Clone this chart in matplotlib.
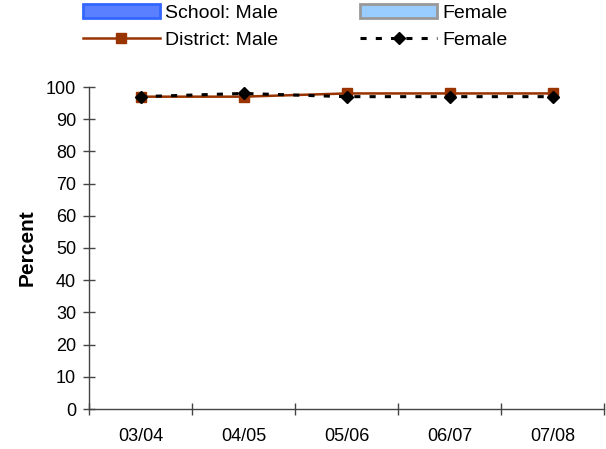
import matplotlib
matplotlib.use("Agg")
import matplotlib.pyplot as plt
from matplotlib.patches import Patch
from matplotlib.lines import Line2D

plt.rcParams['font.family'] = ['Liberation Sans', 'DejaVu Sans']

categories = ["03/04", "04/05", "05/06", "06/07", "07/08"]
district_male = [97, 97, 98, 98, 98]
district_female = [97, 98, 97, 97, 97]
yticks = list(range(0, 101, 10))

W, H = 606, 449
fig = plt.figure(figsize=(W / 100, H / 100), dpi=100)
x0, x1, y0, y1 = 89, 604, 409, 87
ax = fig.add_axes([x0 / W, 1 - y0 / H, (x1 - x0) / W, (y0 - y1) / H])

x = list(range(len(categories)))
ax.plot(x, district_male, color='#993300', lw=1.8, marker='s', ms=7.5,
        mfc='#993300', mec='#993300', zorder=3, clip_on=False)
ax.plot(x, district_female, color='black', lw=2.2, ls=(0, (2, 3)), marker='D',
        ms=6.5, mfc='black', mec='black', zorder=4, clip_on=False)

ax.set_xlim(-0.5, len(categories) - 0.5)
ax.set_ylim(0, 100)
ax.set_yticks(yticks)
ax.set_xticks(x)
ax.set_xticklabels(categories, fontsize=13)
ax.set_xticks([i - 0.5 for i in range(len(categories) + 1)], minor=True)
ax.tick_params(axis='x', which='major', length=0, pad=14)
ax.tick_params(axis='x', which='minor', length=8, direction='inout', width=1, color='#444444')
ax.tick_params(axis='y', labelsize=13, length=8.5, direction='inout', width=1,
               color='#444444', pad=5)
for s in ['top', 'right']:
    ax.spines[s].set_visible(False)
for s in ['left', 'bottom']:
    ax.spines[s].set_color('#444444')
    ax.spines[s].set_linewidth(1)
ax.set_ylabel("Percent", fontsize=15, fontweight='bold', labelpad=7)

handles = [Patch(facecolor='#5b80ff', edgecolor='#3366ff', lw=2, label='School: Male'),
           Line2D([], [], color='#993300', lw=1.8, marker='s', ms=7.5, label='District: Male'),
           Patch(facecolor='#99ccff', edgecolor='#999999', lw=2, label='Female'),
           Line2D([], [], color='black', lw=2.2, ls=(0, (2, 3)), marker='D', ms=6.5, label='Female')]
fig.legend(handles=handles, ncol=2, loc='upper left', bbox_to_anchor=(83 / W, 1 - 4 / H),
           frameon=False, fontsize=14, handlelength=3.95, handleheight=0.75,
           labelspacing=0.45, handletextpad=0.25, borderpad=0, borderaxespad=0,
           columnspacing=4.25)

fig.savefig("out.png", dpi=100)
